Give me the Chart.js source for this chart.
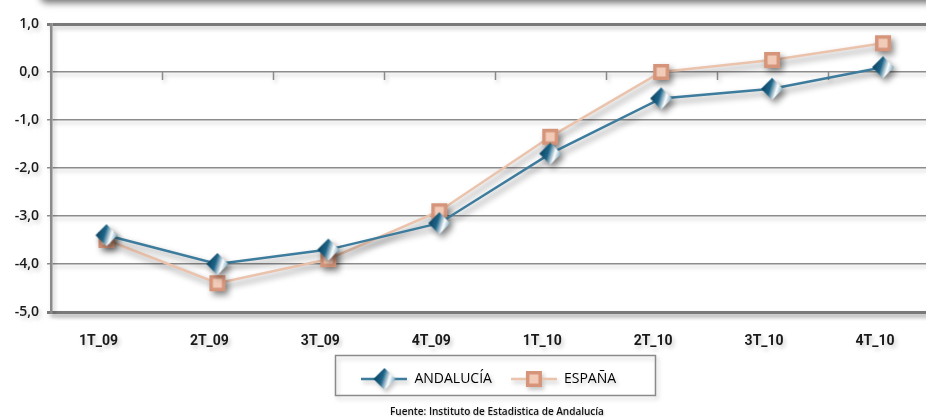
<!DOCTYPE html>
<html><head><meta charset="utf-8">
<script src="https://cdn.jsdelivr.net/npm/chart.js@4/dist/chart.umd.min.js"></script>
<style>
html,body{margin:0;padding:0;background:#fff;overflow:hidden;width:926px;height:417px;}
#wrap{position:relative;width:952px;height:417px;}
#band{position:absolute;left:40px;top:-14px;width:940px;height:14px;border-radius:10px;background:#fff;box-shadow:0 3px 7px rgba(0,0,0,0.55);}
#src{position:absolute;left:0;width:994px;top:404px;text-align:center;font:600 10px "Open Sans",sans-serif;color:#111;text-shadow:1px 1px 2px rgba(0,0,0,0.2);}
canvas{position:absolute;left:0;top:0;width:952px;height:417px;}
</style></head>
<body>
<div id="wrap">
<canvas id="c" width="952" height="417" style="width:952px;height:417px"></canvas>
<div id="band"></div>
<div id="src">Fuente: Instituto de Estadistica de Andalucía</div>
</div>
<script>
const categories = ["1T_09","2T_09","3T_09","4T_09","1T_10","2T_10","3T_10","4T_10"];
const andalucia = [-3.4,-4.0,-3.7,-3.15,-1.7,-0.55,-0.35,0.1];
const espana = [-3.5,-4.4,-3.9,-2.9,-1.35,0.0,0.25,0.6];
const yTicks = [1,0,-1,-2,-3,-4,-5];

function diamondImg(withLine){
  const w = withLine ? 46 : 24, h = 24;
  const c = document.createElement('canvas'); c.width = w; c.height = h;
  const g = c.getContext('2d');
  const cx = w/2, cy = h/2, r = 11;
  if (withLine){ g.strokeStyle = '#3d7c9c'; g.lineWidth = 2.5; g.beginPath(); g.moveTo(0,cy); g.lineTo(w,cy); g.stroke(); }
  const gr = g.createLinearGradient(cx-r, cy-r*0.3, cx+r, cy+r*0.3);
  gr.addColorStop(0,'#08405d'); gr.addColorStop(0.4,'#1e6488'); gr.addColorStop(0.7,'#ffffff'); gr.addColorStop(1,'#5f97b3');
  g.fillStyle = gr;
  g.beginPath(); g.moveTo(cx,cy-r); g.lineTo(cx+r,cy); g.lineTo(cx,cy+r); g.lineTo(cx-r,cy); g.closePath(); g.fill();
  return c;
}
function squareImg(withLine){
  const w = withLine ? 46 : 20, h = 20;
  const c = document.createElement('canvas'); c.width = w; c.height = h;
  const g = c.getContext('2d');
  const cx = w/2, cy = h/2;
  if (withLine){ g.strokeStyle = '#ebc3ac'; g.lineWidth = 2.5; g.beginPath(); g.moveTo(0,cy); g.lineTo(w,cy); g.stroke(); }
  g.fillStyle = '#d6957a'; g.fillRect(cx-8,cy-8,16,16);
  g.fillStyle = '#f1cbb7'; g.fillRect(cx-4.5,cy-4.5,9,9);
  return c;
}
const dPt = diamondImg(false), sPt = squareImg(false), dLg = diamondImg(true), sLg = squareImg(true);

const shadowPlugin = {
  id:'shadows',
  afterLayout(chart){ const lg = chart.legend; lg.left -= 6; lg.right -= 6; },
  beforeDraw(chart){ const ctx = chart.ctx; ctx.save(); ctx.shadowColor='rgba(0,0,0,0.22)'; ctx.shadowBlur=4; ctx.shadowOffsetX=2; ctx.shadowOffsetY=3; },
  beforeDatasetsDraw(chart){
    const ctx = chart.ctx, x = chart.scales.x, y = chart.scales.y;
    const y0 = y.getPixelForValue(0);
    ctx.save(); ctx.strokeStyle='#8a8a8a'; ctx.lineWidth=1.5;
    for (let i=1;i<categories.length;i++){
      const px = Math.round((x.getPixelForValue(i-1)+x.getPixelForValue(i))/2)+0.5;
      ctx.beginPath(); ctx.moveTo(px,y0); ctx.lineTo(px,y0+8); ctx.stroke();
    }
    ctx.restore();
    ctx.save(); ctx.shadowColor='rgba(0,0,0,0.45)'; ctx.shadowBlur=6; ctx.shadowOffsetX=3; ctx.shadowOffsetY=4;
  },
  afterDatasetsDraw(chart){ chart.ctx.restore(); },
  afterDraw(chart){
    const ctx = chart.ctx, lg = chart.legend;
    const cx = (lg.left+lg.right)/2, cy = lg.top + lg.height/2;
    ctx.save(); ctx.shadowColor='rgba(0,0,0,0.2)'; ctx.shadowBlur=4; ctx.shadowOffsetX=2; ctx.shadowOffsetY=3;
    ctx.strokeStyle='#8a8a8a'; ctx.lineWidth=1.5;
    ctx.strokeRect(Math.round(cx-154)+0.5, Math.round(cy-20)+0.5, 320, 40);
    ctx.restore();
    ctx.restore();
  }
};

new Chart(document.getElementById('c'), {
  type:'line',
  data:{ labels:categories, datasets:[
    {label:'ANDALUCÍA', data:andalucia, borderColor:'#3d7c9c', borderWidth:2.5, pointStyle:dPt, pointRadius:11, tension:0},
    {label:'ESPAÑA', data:espana, borderColor:'#ebc3ac', borderWidth:2.5, pointStyle:sPt, pointRadius:9, tension:0, order:1}
  ]},
  options:{
    responsive:false, animation:false,
    layout:{padding:{top:24,right:2,bottom:21,left:0}},
    plugins:{
      tooltip:{enabled:false},
      legend:{position:'bottom', fullSize:false,
        labels:{usePointStyle:true, pointStyleWidth:46, padding:19, color:'#3a3a3a',
          font:{family:'"Open Sans", sans-serif', size:14, weight:'400'},
          generateLabels(chart){ return chart.data.datasets.map((d,i)=>({text:d.label, pointStyle: i===0?dLg:sLg, fillStyle:'rgba(0,0,0,0)', strokeStyle:'rgba(0,0,0,0)', lineWidth:0, datasetIndex:i, hidden:false})); }
        }
      }
    },
    scales:{
      x:{ offset:true, grid:{display:false, drawTicks:false},
        border:{display:true, color:'#7a7a7a', width:3},
        ticks:{padding:21, labelOffset:-8, color:'#1a1a1a', font:{family:'"Liberation Sans Narrow", "Roboto", sans-serif', size:14, weight:'bold'}},
        afterFit(s){ s.height = 41; }
      },
      y:{ min:-5, max:1,
        afterBuildTicks(s){ s.ticks = yTicks.map(v=>({value:v})); },
        grid:{ color:(c)=> (c.tick && (c.tick.value===1||c.tick.value===-5)) ? '#7a7a7a' : '#8c8c8c',
               lineWidth:(c)=> (c.tick && (c.tick.value===1||c.tick.value===-5)) ? 3 : 1.5,
               drawTicks:true, tickLength:4 },
        border:{display:true, color:'#8a8a8a', width:2.5},
        ticks:{ padding:8, color:'#1a1a1a', font:{family:'"Open Sans", sans-serif', size:14, weight:'600'},
          callback:(v)=> Number(v).toFixed(1).replace('.', ',') },
        afterFit(s){ s.width = 51; }
      }
    }
  },
  plugins:[shadowPlugin]
});
</script>
</body></html>
